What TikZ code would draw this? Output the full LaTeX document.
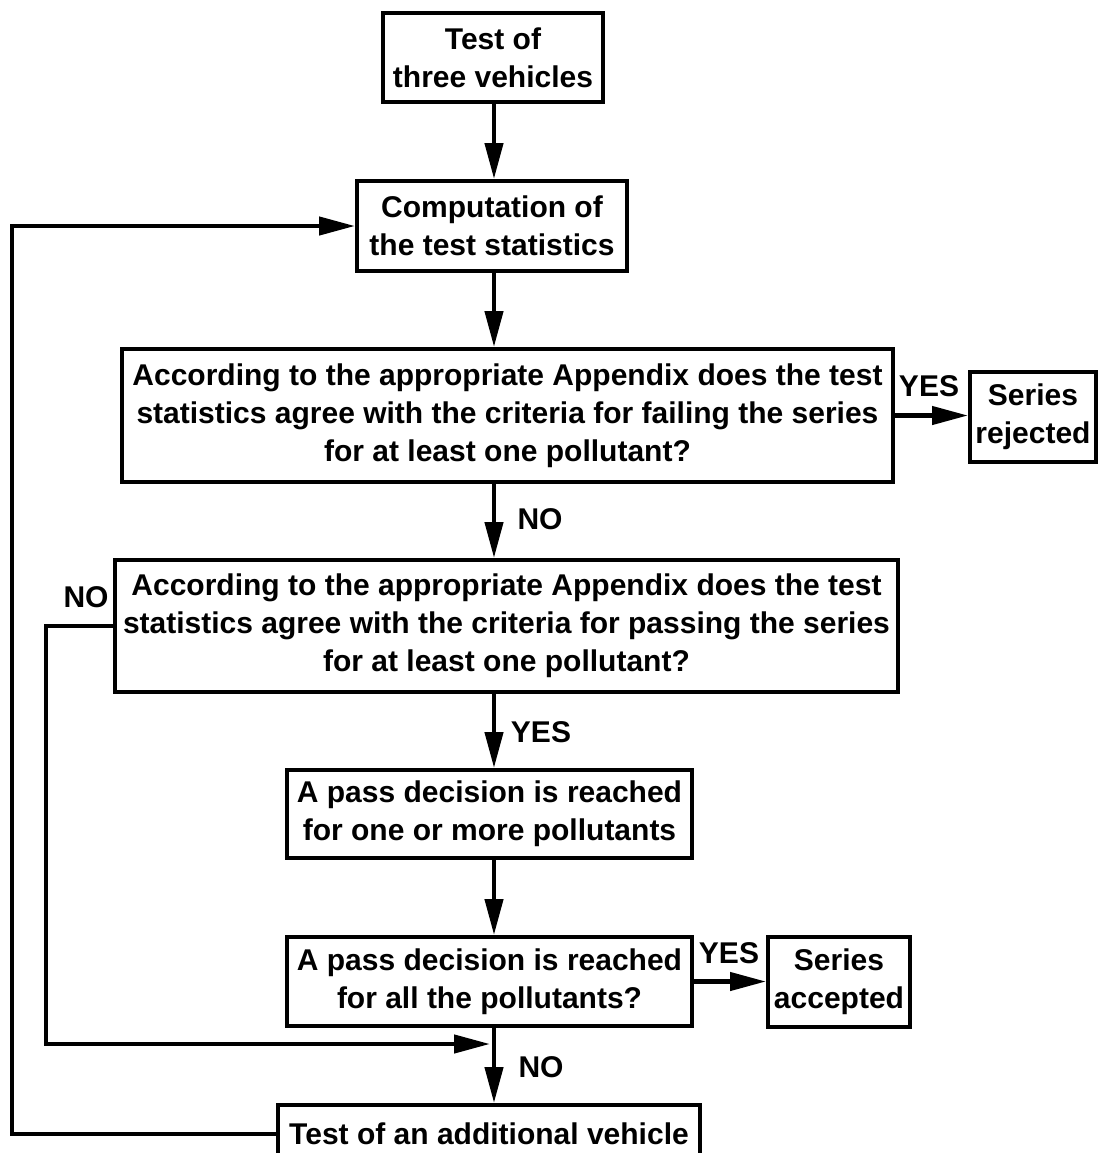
\documentclass[tikz,border=0pt]{standalone}
\usepackage{fontspec}
\setmainfont{Liberation Sans}
\usetikzlibrary{arrows.meta}
\begin{document}
\begin{tikzpicture}[x=0.5pt,y=-0.5pt,
  box/.style={draw=black,line width=2pt,fill=white,align=center,inner sep=0pt,
    font=\fontsize{15}{19}\selectfont\bfseries},
  lbl/.style={font=\fontsize{15}{19}\selectfont\bfseries,inner sep=0pt},
  conn/.style={line width=2.2pt},
  arr/.style={conn,-{Triangle[length=18pt,width=9pt]}}]
\useasboundingbox (0,0) rectangle (1099,1153);
\fill[white] (0,0) rectangle (1099,1153);
\node[box,minimum width=110pt,minimum height=44.5pt] (b1) at (493,57.5) {Test of\\three vehicles};
\node[box,minimum width=135pt,minimum height=45pt] (b2) at (492,226) {Computation of\\the test statistics};
\node[box,minimum width=385.5pt,minimum height=66.5pt] (b3) at (507.5,415.5) {According to the appropriate Appendix does the test\\statistics agree with the criteria for failing the series\\for at least one pollutant?};
\node[box,minimum width=63pt,minimum height=45pt] (b4) at (1033,417) {Series\\rejected};
\node[box,minimum width=391.5pt,minimum height=66pt] (b5) at (506.5,626) {According to the appropriate Appendix does the test\\statistics agree with the criteria for passing the series\\for at least one pollutant?};
\node[box,minimum width=202.5pt,minimum height=44pt] (b6) at (489.5,814) {A pass decision is reached\\for one or more pollutants};
\node[box,minimum width=202.5pt,minimum height=44.5pt] (b7) at (489.5,981.5) {A pass decision is reached\\for all the pollutants?};
\node[box,minimum width=71pt,minimum height=45pt] (b8) at (839,982) {Series\\accepted};
\node[box,minimum width=211pt,minimum height=29pt] (b9) at (489,1134) {Test of an additional vehicle};
\coordinate (col) at (494,0);
\coordinate (noL) at (46,626);
\coordinate (noB) at (46,1044);
\coordinate (merge) at (490,1044);
\coordinate (loopB) at (12,1134);
\coordinate (loopT) at (12,226);
% vertical flow
\draw[arr] (b1.south -| col) -- (b2.north -| col);
\draw[arr] (b2.south -| col) -- (b3.north -| col);
\draw[arr] (b3.south -| col) -- (b5.north -| col);
\draw[arr] (b5.south -| col) -- (b6.north -| col);
\draw[arr] (b6.south -| col) -- (b7.north -| col);
\draw[arr] (b7.south -| col) -- (b9.north -| col);
% side branches
\draw[arr] (b3.east) -- (b3.east -| b4.west);
\draw[arr] (b7.east) -- (b7.east -| b8.west);
\draw[arr] (b5.west) -- (noL) -- (noB) -- (merge);
\draw[arr] (b9.west) -- (loopB) -- (loopT) -- (b2.west);
% labels
\node[lbl] (l1) at (929,386) {YES};
\node[lbl] (l2) at (540,519) {NO};
\node[lbl] (l3) at (86,597) {NO};
\node[lbl] (l4) at (541,732) {YES};
\node[lbl] (l5) at (729,953) {YES};
\node[lbl] (l6) at (541,1067) {NO};
\end{tikzpicture}
\end{document}
